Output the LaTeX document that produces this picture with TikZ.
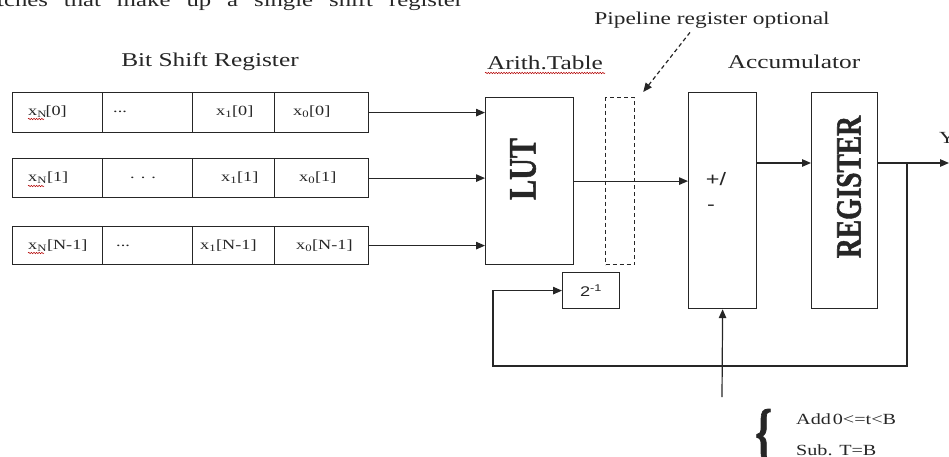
\documentclass[tikz,border=0pt]{standalone}
\usepackage{fontspec}
\setmainfont[FakeStretch=1.3]{Liberation Serif}
\newfontfamily\heavyserif[FakeBold=1.5]{Liberation Serif Bold}
\newfontfamily\widesans[FakeStretch=1.3]{Liberation Sans}
\usetikzlibrary{arrows.meta,decorations.pathmorphing}
\definecolor{ink}{RGB}{38,38,38}

\begin{document}
\begin{tikzpicture}[x=1pt,y=-1pt,
  line/.style={draw=ink, line width=1.2pt},
  blk/.style={line, rectangle, inner sep=0pt, anchor=north west},
  arr/.style={line, -{Triangle[length=9pt,width=7.5pt]}},
  lbl/.style={text=ink, font=\fontsize{19.5}{22}\selectfont, inner sep=0pt},
  celltxt/.style={text=ink, font=\fontsize{14}{16}\selectfont, inner sep=0pt, anchor=west},
  legtxt/.style={text=ink, font=\fontsize{15.5}{17}\selectfont, inner sep=0pt, anchor=west},
  squiggle/.style={draw=red!70!black, line width=0.5pt, decorate,
    decoration={snake, amplitude=0.7pt, segment length=2.6pt}}
]
\useasboundingbox (0,0) rectangle (949,457);

% running text above the figure (justified line, wide word spaces)
\node[anchor=base west, inner sep=0pt, text=ink, font=\fontsize{19}{22}\selectfont]
  (caption) at (-3,7) {\spaceskip=16pt tches that make up a single shift register};

% headings
\node[lbl] (hbits) at (210,62) {Bit Shift Register};
\node[lbl] (harith) at (545,63) {Arith.Table};
\node[lbl] (hacc) at (794,62) {Accumulator};
\node[lbl, font=\fontsize{18}{20}\selectfont] (plabel) at (712,20) {Pipeline register optional};

% shift register rows
\node[blk, minimum width=90pt, minimum height=40pt] (r1a) at (12,92) {};
\node[blk, minimum width=90pt, minimum height=40pt] (r1b) at (102,92) {};
\node[blk, minimum width=82pt, minimum height=40pt] (r1c) at (192,92) {};
\node[blk, minimum width=94pt, minimum height=40pt] (r1d) at (274,92) {};

\node[blk, minimum width=90pt, minimum height=39pt] (r2a) at (12,158) {};
\node[blk, minimum width=90pt, minimum height=39pt] (r2b) at (102,158) {};
\node[blk, minimum width=82pt, minimum height=39pt] (r2c) at (192,158) {};
\node[blk, minimum width=94pt, minimum height=39pt] (r2d) at (274,158) {};

\node[blk, minimum width=90pt, minimum height=38pt] (r3a) at (12,226) {};
\node[blk, minimum width=90pt, minimum height=38pt] (r3b) at (102,226) {};
\node[blk, minimum width=82pt, minimum height=38pt] (r3c) at (192,226) {};
\node[blk, minimum width=94pt, minimum height=38pt] (r3d) at (274,226) {};

% cell contents
\node[celltxt] (t1a) at (28,112) {x\textsubscript{N}\kern-1.5pt[0]};
\node[celltxt] (t1b) at (113,112) {...};
\node[celltxt] (t1c) at (216,112) {x\textsubscript{1}[0]};
\node[celltxt] (t1d) at (293,112) {x\textsubscript{0}[0]};

\node[celltxt] (t2a) at (28,178) {x\textsubscript{N}[1]};
\node[celltxt] (t2b) at (130,178) {. . .};
\node[celltxt] (t2c) at (221,178) {x\textsubscript{1}[1]};
\node[celltxt] (t2d) at (299,178) {x\textsubscript{0}[1]};

\node[celltxt] (t3a) at (28,246) {x\textsubscript{N}[N-1]};
\node[celltxt] (t3b) at (116,246) {...};
\node[celltxt] (t3c) at (200,246) {x\textsubscript{1}[N-1]};
\node[celltxt] (t3d) at (296,246) {x\textsubscript{0}[N-1]};

% spell-check underlines
\draw[squiggle] (28,119) -- (44,119);
\draw[squiggle] (28,186) -- (44,186);
\draw[squiggle] (28,253) -- (44,253);
\draw[squiggle] (485,73) -- (605,73);

% processing blocks
\node[blk, minimum width=88pt, minimum height=167pt] (lut) at (485,97) {};
\node[rotate=90, inner sep=0pt, text=ink] (luttxt) at (523,169)
  {\scalebox{1}[1.3]{\heavyserif\fontsize{30}{30}\selectfont LUT}};
\node[blk, dashed, dash pattern=on 4pt off 3pt, minimum width=29pt, minimum height=167pt] (pipe) at (605,97) {};
\node[blk, minimum width=68pt, minimum height=216pt] (addsub) at (688,92) {};
\node[inner sep=0pt, text=ink, font=\widesans\fontsize{18}{18}\selectfont] (pm1) at (716,179) {+/};
\node[inner sep=0pt, text=ink, font=\widesans\fontsize{18}{18}\selectfont] (pm2) at (711,208) {-};
\node[blk, minimum width=66pt, minimum height=216pt] (reg) at (811,92) {};
\node[rotate=90, inner sep=0pt, text=ink] (regtxt) at (849,187)
  {\scalebox{1}[1.3]{\heavyserif\fontsize{27.5}{28}\selectfont REGISTER}};
\node[blk, minimum width=57pt, minimum height=36pt] (half) at (562,272) {};
\node[inner sep=0pt, text=ink, font=\widesans\fontsize{14}{14}\selectfont] (halftxt) at (591,291)
  {2\textsuperscript{-1}};

% inputs to the table
\draw[arr] (r1d.east) -- (r1d.east -| lut.west);
\draw[arr] (r2d.east) -- (r2d.east -| lut.west);
\draw[arr] (r3d.east) -- (r3d.east -| lut.west);

% table output through the optional pipeline register
\draw[arr] (lut.east) -- (lut.east -| addsub.west);

% pointer to the optional register
\draw[line, dash pattern=on 4pt off 3pt, -{Triangle[length=9pt,width=7.5pt]}]
  ([xshift=-22pt,yshift=-4pt]plabel.south) -- ([xshift=8pt,yshift=5pt]pipe.north east);

% accumulator path
\coordinate (acc) at (0,163);
\draw[arr] (addsub.east |- acc) -- (reg.west |- acc);
\coordinate (yout) at (949,163);
\coordinate (tap) at (907,163);
\draw[arr] (reg.east |- acc) -- (yout);
\node[inner sep=0pt, text=ink, font=\fontsize{17}{17}\selectfont] (ylabel) at (947,138) {Y};

% feedback through the halving block
\coordinate (fb1) at (907,366);
\coordinate (fb2) at (493,366);
\draw[arr] (tap) -- (fb1) -- (fb2) |- (half.west);

% add/subtract control
\coordinate (ctl) at (722,397);
\draw[arr] (ctl) -- (addsub.south);

% control legend
\node[inner sep=0pt, text=ink, anchor=north west] (brace) at (755,409)
  {\scalebox{0.85}[1.3]{\heavyserif\fontsize{50}{50}\selectfont\{}};
\node[legtxt] (addtxt) at (796,419) {Add\kern2pt0<=t<B};
\node[legtxt] (subtxt) at (796,450) {Sub. T=B};
\end{tikzpicture}
\end{document}
